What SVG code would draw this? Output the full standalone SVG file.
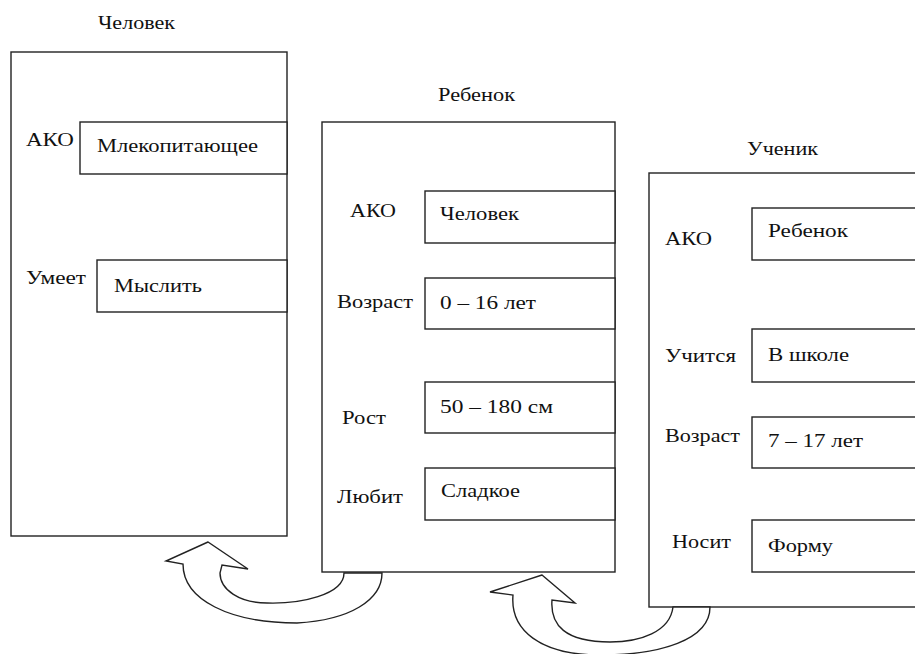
<svg xmlns="http://www.w3.org/2000/svg" width="915" height="654" viewBox="0 0 915 654" font-family="'Liberation Serif', 'DejaVu Serif', serif">
<style>
  .frame { fill: #ffffff; stroke: #222222; stroke-width: 1.4; }
  .slot { fill: #ffffff; stroke: #222222; stroke-width: 1.4; }
  .t { font-size: 19px; fill: #111111; }
  .arrow { fill: #ffffff; stroke: #222222; stroke-width: 1.4; stroke-linejoin: miter; }
</style>
<rect x="0" y="0" width="915" height="654" fill="#ffffff"/>

<g id="frame-chelovek">
  <rect class="frame" x="11" y="52" width="276" height="484"/>
  <text class="t" x="98" y="29" textLength="77" lengthAdjust="spacingAndGlyphs">Человек</text>
  <rect class="slot" x="80" y="122" width="207" height="52"/>
  <text class="t" x="26" y="146" textLength="48" lengthAdjust="spacingAndGlyphs">АКО</text>
  <text class="t" x="97" y="152" textLength="161" lengthAdjust="spacingAndGlyphs">Млекопитающее</text>
  <rect class="slot" x="97" y="260" width="190" height="52"/>
  <text class="t" x="26" y="284" textLength="60" lengthAdjust="spacingAndGlyphs">Умеет</text>
  <text class="t" x="114" y="292" textLength="88" lengthAdjust="spacingAndGlyphs">Мыслить</text>
</g>

<g id="frame-rebenok">
  <rect class="frame" x="322" y="122" width="293" height="450"/>
  <text class="t" x="438" y="101" textLength="77" lengthAdjust="spacingAndGlyphs">Ребенок</text>
  <rect class="slot" x="425" y="191" width="190" height="52"/>
  <text class="t" x="350" y="217" textLength="46" lengthAdjust="spacingAndGlyphs">АКО</text>
  <text class="t" x="440" y="220" textLength="79" lengthAdjust="spacingAndGlyphs">Человек</text>
  <rect class="slot" x="425" y="278" width="190" height="51"/>
  <text class="t" x="337" y="308" textLength="76" lengthAdjust="spacingAndGlyphs">Возраст</text>
  <text class="t" x="440" y="309" textLength="96" lengthAdjust="spacingAndGlyphs">0 – 16 лет</text>
  <rect class="slot" x="425" y="382" width="190" height="51"/>
  <text class="t" x="342" y="424" textLength="44" lengthAdjust="spacingAndGlyphs">Рост</text>
  <text class="t" x="440" y="413" textLength="113" lengthAdjust="spacingAndGlyphs">50 – 180 см</text>
  <rect class="slot" x="425" y="468" width="190" height="52"/>
  <text class="t" x="337" y="503" textLength="66" lengthAdjust="spacingAndGlyphs">Любит</text>
  <text class="t" x="441" y="497" textLength="79" lengthAdjust="spacingAndGlyphs">Сладкое</text>
</g>

<g id="frame-uchenik">
  <rect class="frame" x="649" y="173" width="290" height="434"/>
  <text class="t" x="747" y="155" textLength="71" lengthAdjust="spacingAndGlyphs">Ученик</text>
  <rect class="slot" x="752" y="208" width="190" height="52"/>
  <text class="t" x="665" y="245" textLength="47" lengthAdjust="spacingAndGlyphs">АКО</text>
  <text class="t" x="768" y="237" textLength="80" lengthAdjust="spacingAndGlyphs">Ребенок</text>
  <rect class="slot" x="752" y="329" width="190" height="53"/>
  <text class="t" x="665" y="362" textLength="71" lengthAdjust="spacingAndGlyphs">Учится</text>
  <text class="t" x="768" y="361" textLength="81" lengthAdjust="spacingAndGlyphs">В школе</text>
  <rect class="slot" x="752" y="417" width="190" height="51"/>
  <text class="t" x="665" y="442" textLength="75" lengthAdjust="spacingAndGlyphs">Возраст</text>
  <text class="t" x="768" y="447" textLength="95" lengthAdjust="spacingAndGlyphs">7 – 17 лет</text>
  <rect class="slot" x="752" y="520" width="190" height="52"/>
  <text class="t" x="672" y="548" textLength="59" lengthAdjust="spacingAndGlyphs">Носит</text>
  <text class="t" x="768" y="552" textLength="65" lengthAdjust="spacingAndGlyphs">Форму</text>
</g>

<g id="connectors">
  <path id="arrow-rebenok-chelovek" class="arrow" d="M208,542 L166,561 L183,564 C183,600 230,623 297,623 C350,620 382,600 382,573 L344,573 C344,595 300,604 267,603 C240,603 220,590 220,573 L222,565 L248,569 Z"/>
  <path id="arrow-uchenik-rebenok" class="arrow" d="M542,575 L490,592 L513,595 C510,630 540,655 600,655 C660,655 710,640 710,607 L673,607 C670,632 640,642 610,642 C565,642 550,625 552,600 L575,603 Z"/>
</g>
</svg>
